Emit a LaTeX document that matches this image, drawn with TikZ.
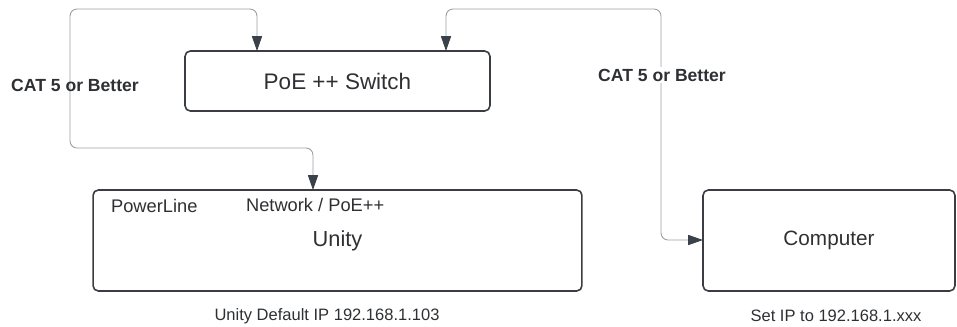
\documentclass[tikz,border=0pt]{standalone}
\usepackage{fontspec}
\setmainfont{Liberation Sans}
\usetikzlibrary{positioning, arrows.meta}
\definecolor{cbox}{HTML}{3A3D42}
\definecolor{cwire}{HTML}{9C9EA2}
\definecolor{ctip}{HTML}{3B4148}
\definecolor{ctext}{HTML}{2E3033}

\begin{document}
\begin{tikzpicture}[
  x=0.02cm, y=-0.02cm,
  every node/.append style={text=ctext, inner sep=1pt},
  devbox/.style={
    rectangle, rounded corners=3pt,
    draw=cbox, line width=0.9pt,
    minimum height=2.02cm,
    font=\fontsize{11.8}{13}\selectfont
  },
  portlabel/.style={font=\fontsize{10.4}{12}\selectfont, anchor=west},
  caption/.style={font=\fontsize{9.4}{11}\selectfont},
  cablelabel/.style={font=\bfseries\fontsize{10}{12}\selectfont},
  cable/.style={
    draw=cwire, line width=0.5pt, rounded corners=4pt,
    {Triangle[length=8.5pt, width=5.8pt, color=ctip]}-{Triangle[length=8.5pt, width=5.8pt, color=ctip]}
  }
]
\useasboundingbox (0,0) rectangle (957,326);

% devices
\node[devbox, minimum width=6.1cm, minimum height=1.2cm,
      font=\fontsize{12.8}{15}\selectfont] (sw) at (337.5,81) {PoE ++ Switch};
\node[devbox, minimum width=9.78cm, font=\fontsize{12.4}{14}\selectfont] (unity) at (337.5,240.5) {Unity};
\node[devbox, minimum width=5.04cm] (pc) at (829,240.5) {Computer};

% ports on the Unity
\node[portlabel] (pwr) at (109,206) {PowerLine};
\node[portlabel] (net) at (244,205) {Network / PoE++};

% captions under the devices
\node[caption] (unityip) at (327,316) {Unity Default IP 192.168.1.103};
\node[caption] (pcip) at (836,316) {Set IP to 192.168.1.xxx};

% cable ends
\coordinate (swL) at (257,51);
\coordinate (swR) at (446,51);
\coordinate (unityNet) at (313,190);
\coordinate (pcIn) at (703,240);

% cables
\draw[cable] (unityNet) -- (313,148) -- (70,148) -- (70,9) -- (257,9) -- (swL);
\draw[cable] (swR) -- (446,9) -- (661,9) -- (661,240) -- (pcIn);

\node[cablelabel] (catL) at (75,85) {CAT 5 or Better};
\node[cablelabel, fill=white] (catR) at (662,75) {CAT 5 or Better};

\end{tikzpicture}
\end{document}
